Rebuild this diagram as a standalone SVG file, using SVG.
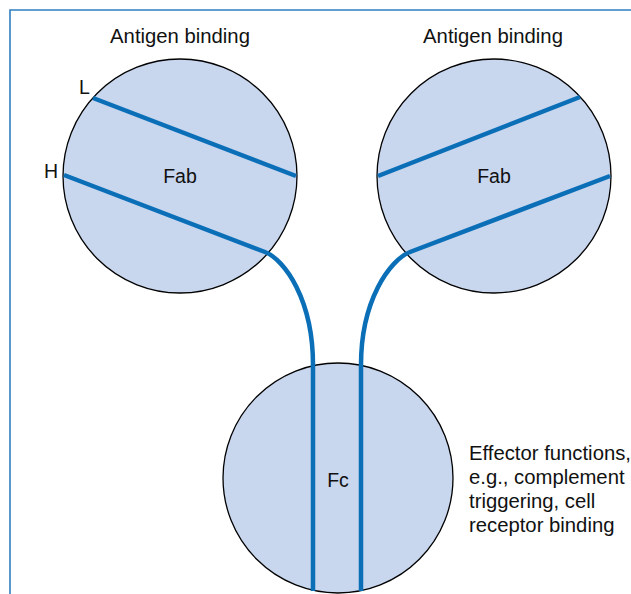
<svg xmlns="http://www.w3.org/2000/svg" width="631" height="594" viewBox="0 0 631 594">
<style>
.dom{fill:#c8d6ee;stroke:#000;stroke-width:1.3}
.chain{fill:none;stroke:#0b6fb8;stroke-width:4.5;stroke-linecap:butt}
text{font-family:"Liberation Sans",Arial,sans-serif;fill:#111;font-size:19.5px}
.c{text-anchor:middle}
.big{font-size:20.3px}
</style>
<rect width="631" height="594" fill="#fff"/>
<g id="frame"><path d="M10,594 V10 H631" fill="none" stroke="#2f7fc0" stroke-width="1.6"/></g>
<g id="fab-left"><circle class="dom" cx="180" cy="176" r="117"/><text class="c" x="180" y="183">Fab</text></g>
<g id="fab-right"><circle class="dom" cx="494" cy="176" r="117"/><text class="c" x="494" y="183">Fab</text></g>
<g id="fc"><circle class="dom" cx="338" cy="478" r="115"/><text class="c" x="338" y="487">Fc</text></g>
<g id="connectors">
<path class="chain" d="M93,98 L296,176"/>
<path class="chain" d="M64,175 L265,252 C285,260 313,300 313,365 L313,591"/>
<path class="chain" d="M580,97 L378,176"/>
<path class="chain" d="M610,176 L410,252 C390,260 361,300 361,365 L361,591"/>
</g>
<g id="labels">
<text class="c big" x="180" y="43">Antigen binding</text>
<text class="c big" x="493" y="43">Antigen binding</text>
<text x="79" y="94">L</text>
<text x="44" y="178">H</text>
<text class="big" x="469" y="460">Effector functions,</text>
<text class="big" x="469" y="484">e.g., complement</text>
<text class="big" x="469" y="508">triggering, cell</text>
<text class="big" x="469" y="532">receptor binding</text>
</g>
</svg>
